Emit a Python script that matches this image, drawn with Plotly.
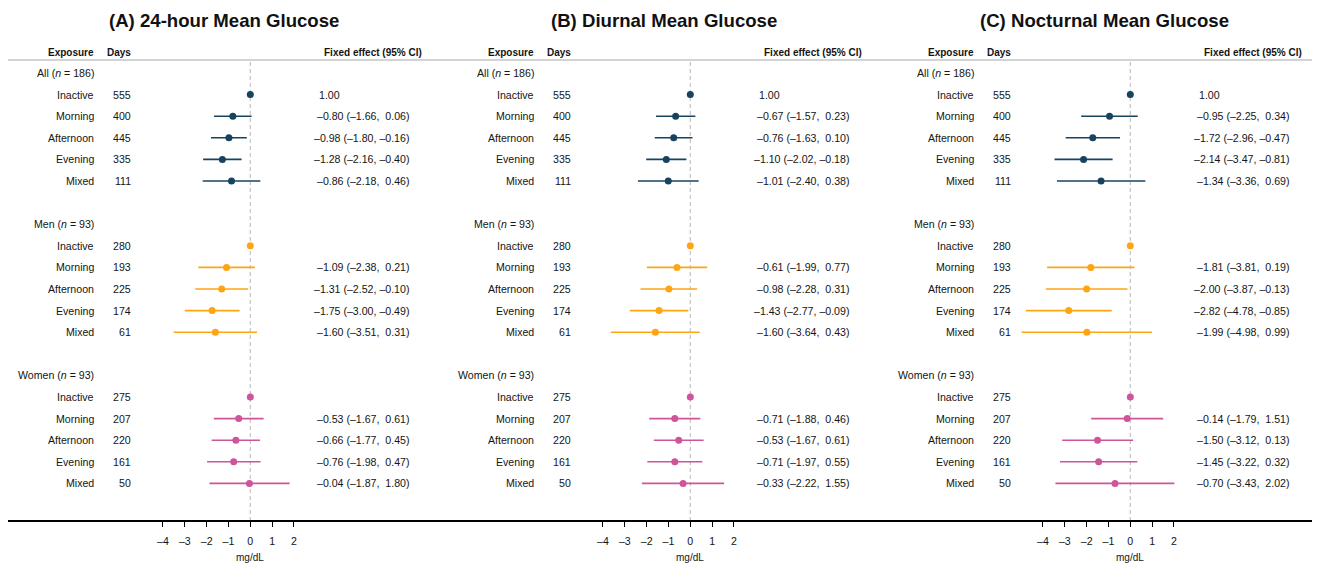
import plotly.graph_objects as go

# ---------------- data ----------------
exposures = ["Inactive", "Morning", "Afternoon", "Evening", "Mixed"]
groups = ["All", "Men", "Women"]
group_n = [186, 93, 93]
days_all = [555, 400, 445, 335, 111]
days_men = [280, 193, 225, 174, 61]
days_women = [275, 207, 220, 161, 50]
ref_label = ["1.00", "", ""]

panel_titles = ["(A) 24-hour Mean Glucose", "(B) Diurnal Mean Glucose", "(C) Nocturnal Mean Glucose"]

# order: All(5), Men(5), Women(5); Inactive is the reference (no CI)
A_est = [0, -0.80, -0.98, -1.28, -0.86, 0, -1.09, -1.31, -1.75, -1.60, 0, -0.53, -0.66, -0.76, -0.04]
A_lo = [None, -1.66, -1.80, -2.16, -2.18, None, -2.38, -2.52, -3.00, -3.51, None, -1.67, -1.77, -1.98, -1.87]
A_hi = [None, 0.06, -0.16, -0.40, 0.46, None, 0.21, -0.10, -0.49, 0.31, None, 0.61, 0.45, 0.47, 1.80]

B_est = [0, -0.67, -0.76, -1.10, -1.01, 0, -0.61, -0.98, -1.43, -1.60, 0, -0.71, -0.53, -0.71, -0.33]
B_lo = [None, -1.57, -1.63, -2.02, -2.40, None, -1.99, -2.28, -2.77, -3.64, None, -1.88, -1.67, -1.97, -2.22]
B_hi = [None, 0.23, 0.10, -0.18, 0.38, None, 0.77, 0.31, -0.09, 0.43, None, 0.46, 0.61, 0.55, 1.55]

C_est = [0, -0.95, -1.72, -2.14, -1.34, 0, -1.81, -2.00, -2.82, -1.99, 0, -0.14, -1.50, -1.45, -0.70]
C_lo = [None, -2.25, -2.96, -3.47, -3.36, None, -3.81, -3.87, -4.78, -4.98, None, -1.79, -3.12, -3.22, -3.43]
C_hi = [None, 0.34, -0.47, -0.81, 0.69, None, 0.19, -0.13, -0.85, 0.99, None, 1.51, 0.13, 0.32, 2.02]

x_ticks = [-4, -3, -2, -1, 0, 1, 2]
x_tick_text = ["–4", "–3", "–2", "–1", "0", "1", "2"]
x_unit = "mg/dL"

# ---------------- styling / geometry ----------------
W, H = 1320, 564
PAGE_OFF = 8.0  # default body margin of the html page
group_colors = ["#17435f", "#ffa514", "#cf559a"]
FONT = "Liberation Sans, Arial, Helvetica, sans-serif"
TXT = "#141414"
ROW0_PX, ROW_PX = 73.0, 21.6
AXIS_PX = 521.0
PANEL_W = 440.0
ZERO_OFF = 250.3
PX_PER_UNIT = 21.83
PANEL_L, PANEL_R = 8.0, 440.0

def py(px):
    return 1 - (px - PAGE_OFF) / H

def pxx(px):
    return (px - PAGE_OFF) / W

def row_px(r):
    return ROW0_PX + ROW_PX * r

def fmt(v, pad=False):
    s = f"{abs(v):.2f}"
    if v < 0:
        return "–" + s
    return ("\u00a0" + s) if pad else s

panels = [(A_est, A_lo, A_hi), (B_est, B_lo, B_hi), (C_est, C_lo, C_hi)]
days_by_group = [days_all, days_men, days_women]

fig = go.Figure()
annotations = []
shapes = []

xrange_ = [(PANEL_L - ZERO_OFF) / PX_PER_UNIT, (PANEL_R - ZERO_OFF) / PX_PER_UNIT]
y_range = [(AXIS_PX - ROW0_PX) / ROW_PX, -(ROW0_PX - PAGE_OFF) / ROW_PX]

for k, (est, lo, hi) in enumerate(panels):
    xa = "x" if k == 0 else f"x{k+1}"
    off = PANEL_W * k
    for g in range(3):
        rows = [7 * g + 1 + i for i in range(5)]
        e = est[5 * g:5 * g + 5]
        l = lo[5 * g:5 * g + 5]
        h = hi[5 * g:5 * g + 5]
        plus = [(hh - ee) if hh is not None else 0 for ee, hh in zip(e, h)]
        minus = [(ee - ll) if ll is not None else 0 for ee, ll in zip(e, l)]
        fig.add_trace(go.Scatter(
            x=e, y=rows, mode="markers", xaxis=xa, yaxis="y",
            marker=dict(color=group_colors[g], size=7),
            error_x=dict(type="data", symmetric=False, array=plus, arrayminus=minus,
                         color=group_colors[g], thickness=1.6, width=0),
            showlegend=False, hoverinfo="skip"))
        annotations.append(dict(
            x=pxx(off + 96), y=py(row_px(7 * g)), xref="paper", yref="paper",
            text=f"{groups[g]} (<i>n</i> = {group_n[g]})", showarrow=False,
            xanchor="right", yanchor="middle", font=dict(family=FONT, size=10.6, color=TXT)))
        for i in range(5):
            r = rows[i]
            annotations.append(dict(
                x=pxx(off + 96), y=py(row_px(r)), xref="paper", yref="paper",
                text=exposures[i], showarrow=False, xanchor="right", yanchor="middle",
                font=dict(family=FONT, size=10.6, color=TXT)))
            annotations.append(dict(
                x=pxx(off + 133), y=py(row_px(r)), xref="paper", yref="paper",
                text=str(days_by_group[g][i]), showarrow=False, xanchor="right", yanchor="middle",
                font=dict(family=FONT, size=10.6, color=TXT)))
            if l[i] is None:
                if ref_label[g]:
                    annotations.append(dict(
                        x=pxx(off + 317), y=py(row_px(r)), xref="paper", yref="paper",
                        text=ref_label[g], showarrow=False, xanchor="left", yanchor="middle",
                        font=dict(family=FONT, size=10.6, color=TXT)))
            else:
                txt = f"{fmt(e[i])} ({fmt(l[i])}, {fmt(h[i], pad=True)})"
                annotations.append(dict(
                    x=pxx(off + 411), y=py(row_px(r)), xref="paper", yref="paper",
                    text=txt, showarrow=False, xanchor="right", yanchor="middle",
                    font=dict(family=FONT, size=10.6, color=TXT)))
    for text, xpos in [("Exposure", 96), ("Days", 133), ("Fixed effect (95% CI)", 424)]:
        annotations.append(dict(
            x=pxx(off + xpos), y=py(52), xref="paper", yref="paper",
            text=f"<b>{text}</b>", showarrow=False, xanchor="right", yanchor="middle",
            font=dict(family=FONT, size=10, color=TXT)))
    annotations.append(dict(
        x=pxx(off + 224), y=py(20), xref="paper", yref="paper",
        text=f"<b>{panel_titles[k]}</b>", showarrow=False, xanchor="center", yanchor="middle",
        font=dict(family=FONT, size=18.6, color="#111")))
    annotations.append(dict(
        x=pxx(off + ZERO_OFF), y=py(557), xref="paper", yref="paper",
        text=x_unit, showarrow=False, xanchor="center", yanchor="middle",
        font=dict(family=FONT, size=10, color=TXT)))
    shapes.append(dict(type="line", xref=xa, yref="paper", x0=0, x1=0, layer="below",
                       y0=py(62), y1=py(AXIS_PX), line=dict(color="#c4c4c4", width=1.2, dash="4px,3px")))
    ax = dict(domain=[pxx(off + PANEL_L), pxx(off + PANEL_R)], range=xrange_,
              showgrid=False, zeroline=False, showline=False,
              tickmode="array", tickvals=x_ticks, ticktext=x_tick_text,
              ticks="outside", ticklen=5, tickwidth=1, tickcolor="#000",
              ticklabelstandoff=5,
              tickfont=dict(family=FONT, size=10.6, color=TXT),
              anchor="y", fixedrange=True)
    fig.update_layout(**{("xaxis" if k == 0 else f"xaxis{k+1}"): ax})

shapes.append(dict(type="line", xref="paper", yref="paper", x0=pxx(PANEL_L), x1=1,
                   y0=py(60), y1=py(60), line=dict(color="#a8a8a8", width=1)))
shapes.append(dict(type="line", xref="paper", yref="paper", x0=pxx(PANEL_L), x1=1,
                   y0=py(AXIS_PX), y1=py(AXIS_PX), line=dict(color="#000", width=2)))

fig.update_layout(
    width=W, height=H,
    margin=dict(l=0, r=0, t=0, b=0),
    paper_bgcolor="white", plot_bgcolor="white",
    yaxis=dict(domain=[py(AXIS_PX), 1], range=y_range, visible=False, fixedrange=True),
    annotations=annotations, shapes=shapes,
    showlegend=False,
)

fig.write_html("out.html")
